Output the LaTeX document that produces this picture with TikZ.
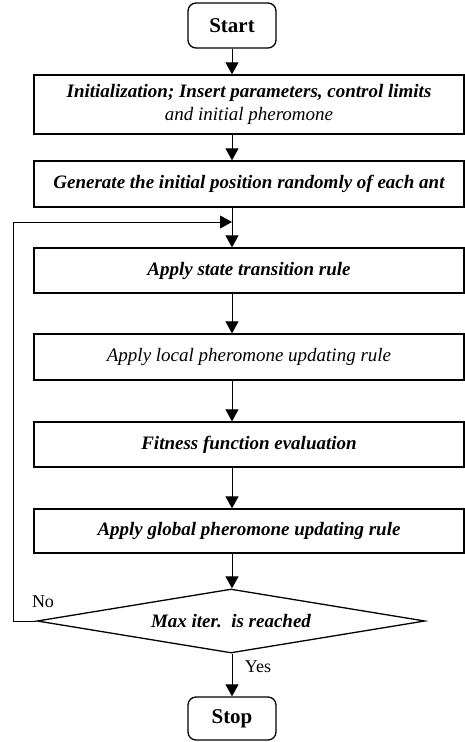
\documentclass[tikz,border=0pt]{standalone}
\usepackage{fontspec}
\setmainfont{Liberation Serif}
\usetikzlibrary{shapes.geometric,arrows.meta}
\begin{document}
\begin{tikzpicture}[x=1pt, y=1pt,
    terminal/.style={draw, rounded corners=8pt, line width=1.3pt, minimum width=88pt, font=\fontsize{21}{24}\selectfont\bfseries},
    stepbox/.style={draw, line width=1.3pt, minimum width=430pt, align=center, font=\fontsize{19}{23}\selectfont\bfseries\itshape},
    check/.style={draw, diamond, aspect=6, line width=1.3pt, minimum width=388pt, minimum height=64pt, inner sep=0pt, font=\fontsize{19}{23}\selectfont\bfseries\itshape},
    flow/.style={-{Triangle[length=12pt,width=13pt]}, line width=1pt},
    lbl/.style={font=\fontsize{18}{20}\selectfont}
  ]
    \useasboundingbox (0,0) rectangle (465,-742);

    \node[terminal, minimum height=45pt] (start) at (232,-25.5) {Start};
    \node[stepbox, minimum height=59pt] (init) at (249,-104.5) {%
      Initialization; Insert parameters, control limits\\
      {\mdseries and initial pheromone}
    };
    \node[stepbox, minimum height=46pt] (gen) at (249,-184) {Generate the initial position randomly of each ant};
    \node[stepbox, minimum height=45pt] (state) at (249,-270.5) {Apply state transition rule};
    \node[stepbox, minimum height=46pt, font=\fontsize{19}{23}\selectfont\itshape] (local) at (249,-357) {Apply local pheromone updating rule};
    \node[stepbox, minimum height=45pt] (fit) at (249,-444.5) {Fitness function evaluation};
    \node[stepbox, minimum height=44pt] (glob) at (249,-531) {Apply global pheromone updating rule};
    \node[check] (max) at (231,-621) {Max iter.\ \ is reached};
    \node[terminal, minimum height=43pt] (stop) at (232,-718.5) {Stop};

    \coordinate (merge) at (232,-222);

    \draw[flow] (start.south) -- (start.south |- init.north);
    \draw[flow] (init.south -| start) -- (gen.north -| start);
    \draw[flow] (gen.south -| start) -- (state.north -| start);
    \draw[flow] (state.south -| start) -- (local.north -| start);
    \draw[flow] (local.south -| start) -- (fit.north -| start);
    \draw[flow] (fit.south -| start) -- (glob.north -| start);
    \draw[flow] (glob.south -| start) -- (max.north -| start);
    \draw[flow] (max.south -| start) -- (stop.north) node[lbl, pos=0.3, right, xshift=9pt] {Yes};
    \draw[flow] (max.west) -- ++(-23,0) |- (merge);

    \node[lbl] (no) at (43,-602) {No};
  \end{tikzpicture}
\end{document}
